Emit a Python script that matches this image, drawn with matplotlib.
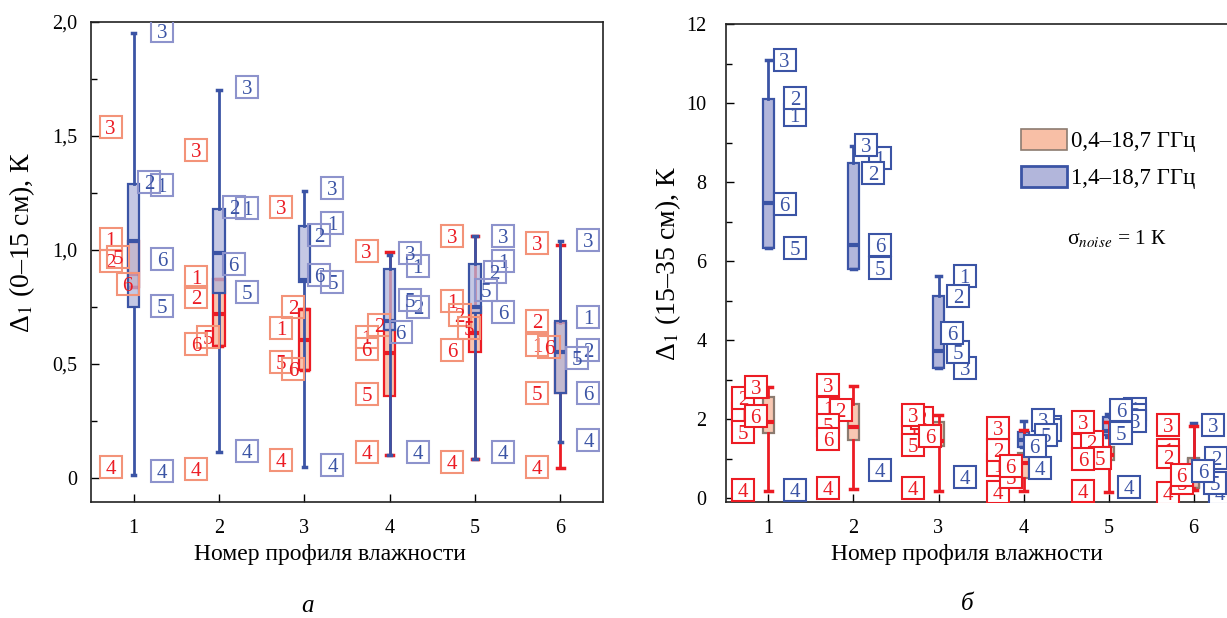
import numpy as np
import matplotlib
matplotlib.use('Agg')
import matplotlib.pyplot as plt
from matplotlib.patches import Patch
from matplotlib.colors import to_rgba
from matplotlib.ticker import MultipleLocator

plt.rcParams['font.family'] = ['Liberation Serif', 'DejaVu Serif']
plt.rcParams['mathtext.fontset'] = 'stix'

profiles = [1, 2, 3, 4, 5, 6]
label_ids = ['1', '2', '3', '4', '5', '6']

# panel a: 0-15 cm. label values, rows = profile, cols = label 1..6
red_a = [
    [1.05, 0.95, 1.54, 0.05, 0.97, 0.85],
    [0.88, 0.795, 1.44, 0.04, 0.62, 0.59],
    [0.66, 0.75, 1.19, 0.08, 0.51, 0.48],
    [0.62, 0.67, 0.995, 0.115, 0.37, 0.565],
    [0.775, 0.715, 1.06, 0.07, 0.66, 0.56],
    [0.585, 0.69, 1.03, 0.05, 0.375, 0.575],
]
blue_a = [
    [1.285, 1.30, 1.96, 0.03, 0.755, 0.96],
    [1.185, 1.19, 1.715, 0.12, 0.815, 0.94],
    [1.12, 1.065, 1.27, 0.057, 0.86, 0.89],
    [0.93, 0.75, 0.985, 0.115, 0.78, 0.64],
    [0.95, 0.905, 1.06, 0.115, 0.825, 0.73],
    [0.705, 0.56, 1.045, 0.165, 0.525, 0.375],
]
# box stats: whislo, q1, med, q3, whishi
red_box_a = [
    [0.84, 0.84, 0.895, 1.04, 1.04],
    [0.58, 0.58, 0.72, 0.875, 0.875],
    [0.475, 0.475, 0.605, 0.74, 0.74],
    [0.10, 0.36, 0.55, 0.65, 0.99],
    [0.085, 0.555, 0.635, 0.75, 1.06],
    [0.045, 0.375, 0.555, 0.68, 1.02],
]
blue_box_a = [
    [0.015, 0.75, 1.04, 1.29, 1.95],
    [0.115, 0.81, 0.985, 1.18, 1.70],
    [0.05, 0.86, 0.87, 1.105, 1.26],
    [0.10, 0.65, 0.69, 0.915, 0.98],
    [0.085, 0.725, 0.75, 0.94, 1.06],
    [0.16, 0.375, 0.555, 0.69, 1.04],
]

# panel b: 15-35 cm
red_b = [
    [2.14, 2.52, 2.82, 0.20, 1.67, 2.07],
    [2.28, 2.23, 2.86, 0.25, 1.85, 1.50],
    [1.77, 2.02, 2.10, 0.25, 1.34, 1.57],
    [0.83, 1.22, 1.78, 0.15, 0.54, 0.81],
    [1.34, 1.42, 1.93, 0.18, 1.01, 0.98],
    [1.22, 1.04, 1.85, 0.12, 0.38, 0.58],
]
blue_b = [
    [9.70, 10.12, 11.09, 0.20, 6.32, 7.44],
    [8.60, 8.24, 8.94, 0.70, 5.82, 6.40],
    [5.62, 5.11, 3.29, 0.53, 3.70, 4.17],
    [1.80, 1.73, 1.97, 0.76, 1.60, 1.32],
    [2.25, 2.10, 1.95, 0.28, 1.65, 2.23],
    [0.25, 1.02, 1.85, 0.12, 0.38, 0.68],
]
red_box_b = [
    [0.18, 1.65, 1.92, 2.55, 2.82],
    [0.22, 1.47, 1.80, 2.37, 2.83],
    [0.18, 1.32, 1.45, 1.93, 2.10],
    [0.18, 0.50, 0.88, 1.13, 1.72],
    [0.15, 0.96, 1.09, 1.29, 1.92],
    [0.20, 0.25, 0.78, 1.01, 1.82],
]
blue_box_b = [
    [6.33, 6.33, 7.47, 10.10, 11.08],
    [5.80, 5.80, 6.40, 8.49, 8.92],
    [3.29, 3.29, 3.73, 5.12, 5.62],
    [1.30, 1.30, 1.47, 1.68, 1.95],
    [1.55, 1.60, 1.70, 2.05, 2.12],
    [0.28, 0.28, 0.80, 1.00, 1.90],
]

# label x nudges (axis units) so overlapping squares are spread like the original
red_dx_a = [[0, 0, 0, 0, .09, .2], [0, 0, 0, 0, .14, 0], [0, .14, 0, 0, 0, .14],
            [0, .15, 0, 0, 0, 0], [0, .09, 0, 0, .2, 0], [0, 0, 0, 0, 0, .14]]
blue_dx_a = [[0, -.15, 0, 0, 0, 0], [0, -.15, 0, 0, 0, -.16], [0, -.16, 0, 0, 0, -.16],
             [0, 0, -.09, 0, -.09, -.2], [0, -.1, 0, 0, -.2, 0], [0, 0, 0, 0, -.14, 0]]
red_dx_b = [[0, 0, .15, 0, 0, .15], [0, .15, 0, 0, 0, 0], [0, .1, 0, 0, 0, .2],
            [0, 0, 0, 0, .15, .15], [0, .1, 0, 0, .2, 0], [0, 0, 0, 0, .16, .16]]
blue_dx_b = [[0, 0, -.12, 0, 0, -.12], [0, -.08, -.16, 0, 0, 0], [0, -.08, 0, 0, -.08, -.15],
             [0, 0, -.08, -.12, -.05, -.18], [0, 0, 0, -.07, -.16, -.16], [0, -.04, -.08, 0, -.06, -.2]]

RED = '#ec1c24'
BLUE = '#3b54a5'
SALMON = '#f8bfa6'
LAVENDER = '#b2b6db'


def stats(rows):
    return [dict(whislo=r[0], q1=r[1], med=r[2], q3=r[3], whishi=r[4]) for r in rows]


def boxes(ax, rows, face, edge, line, z, width=0.13, cap=0.08):
    ax.bxp(stats(rows), positions=profiles, widths=width, capwidths=cap,
           patch_artist=True, showfliers=False, manage_ticks=False, zorder=z,
           boxprops=dict(facecolor=face, edgecolor=edge, linewidth=1.6),
           medianprops=dict(color=line, linewidth=3, solid_capstyle='butt'),
           whiskerprops=dict(color=line, linewidth=2),
           capprops=dict(color=line, linewidth=2.5))


def labels(ax, vals, dx, base, edge, tcolor, face, z):
    for i, p in enumerate(profiles):
        for k in range(6):
            x = p + base + dx[i][k]
            y = vals[i][k]
            ax.plot([x], [y], marker='s', ms=16, mfc=face, mec=edge, mew=1.5,
                    zorder=z, clip_on=True)
            ax.text(x, y, label_ids[k], color=tcolor, fontsize=15,
                    ha='center', va='center_baseline', zorder=z + 0.001)
            z += 0.01


def style(ax):
    ax.tick_params(direction='in', which='both', top=False, right=False,
                   labelsize=14.5)
    ax.tick_params(which='major', length=6, width=1)
    ax.tick_params(which='minor', length=4, width=1)
    ax.tick_params(axis='x', pad=12)
    ax.set_xlim(0.5, 6.5)
    ax.set_xticks(profiles)
    for s in ax.spines.values():
        s.set_linewidth(1.2)
        s.set_color('#222222')
    ax.set_xlabel('Номер профиля влажности', fontsize=17)


fig = plt.figure(figsize=(12.27, 6.18), dpi=100)

# panel a
ax1 = fig.add_axes([91 / 1227, 116 / 618, 512 / 1227, 480 / 618])
boxes(ax1, red_box_a, to_rgba(SALMON, 0.9), RED, RED, 2)
boxes(ax1, blue_box_a, to_rgba(LAVENDER, 0.75), BLUE, BLUE, 3, cap=0.04)
labels(ax1, red_a, red_dx_a, -0.27, '#f39379', RED, 'none', 5)
labels(ax1, blue_a, blue_dx_a, 0.33, '#8d93cc', BLUE, 'none', 5)
ax1.set_ylim(-0.105, 2.0)
ax1.set_yticks([0, 0.5, 1.0, 1.5, 2.0], ['0', '0,5', '1,0', '1,5', '2,0'])
ax1.yaxis.set_minor_locator(MultipleLocator(0.25))
style(ax1)
ax1.tick_params(axis='y', pad=10)
ax1.set_ylabel('Δ$_1$ (0–15 см), К', fontsize=20)
ax1.yaxis.set_label_coords(-0.105, 0.54)
ax1.xaxis.set_label_coords(0.467, -0.088)

# panel b
ax2 = fig.add_axes([726 / 1227, 116 / 618, 510 / 1227, 478 / 618])
boxes(ax2, blue_box_b, LAVENDER, BLUE, BLUE, 2, width=0.12, cap=0.06)
boxes(ax2, red_box_b, to_rgba(SALMON, 0.85), '#8c7b70', RED, 3, width=0.12)
labels(ax2, red_b, red_dx_b, -0.30, RED, RED, 'white', 5)
labels(ax2, blue_b, blue_dx_b, 0.31, BLUE, BLUE, 'white', 6)
ax2.set_ylim(-0.1, 12)
ax2.set_yticks([0, 2, 4, 6, 8, 10, 12])
ax2.yaxis.set_minor_locator(MultipleLocator(1))
style(ax2)
ax2.tick_params(axis='y', pad=14)
ax2.set_ylabel('Δ$_1$ (15–35 см), К', fontsize=20)
ax2.yaxis.set_label_coords(-0.085, 0.50)
ax2.xaxis.set_label_coords(0.4725, -0.088)

handles = [Patch(facecolor=SALMON, edgecolor='#8c7b70', linewidth=1.2),
           Patch(facecolor=LAVENDER, edgecolor=BLUE, linewidth=2)]
ax2.legend(handles, ['0,4–18,7 ГГц', '1,4–18,7 ГГц'], loc='upper left',
           bbox_to_anchor=(0.578, 0.78), frameon=False, fontsize=16.5,
           handlelength=2.0, handleheight=1.0, handletextpad=0.2,
           labelspacing=0.6, borderpad=0, borderaxespad=0)
ax2.text(0.668, 0.552, 'σ$_{noise}$ = 1 К', transform=ax2.transAxes,
         fontsize=15.5, ha='left', va='center')

fig.text(308 / 1227, 1 - 606 / 618, 'а', fontsize=18, style='italic',
         ha='center', va='center')
fig.text(967 / 1227, 1 - 604 / 618, 'б', fontsize=18, style='italic',
         ha='center', va='center')

fig.savefig('out.png', dpi=100)
